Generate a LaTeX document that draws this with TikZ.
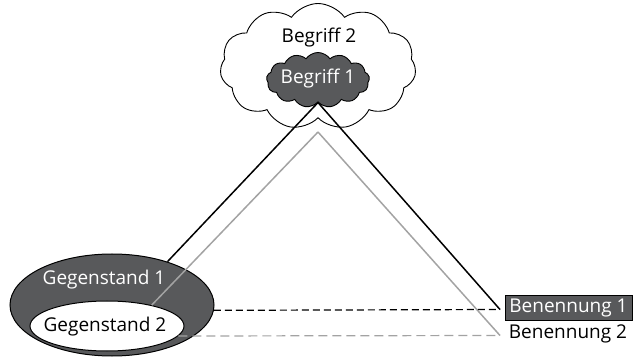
\documentclass[tikz,border=0pt]{standalone}
\usepackage{fontspec}
\setmainfont{Open Sans}
\usetikzlibrary{shapes.geometric,shapes.symbols}
\definecolor{darkfill}{HTML}{58595B}
\definecolor{lightline}{HTML}{A3A3A3}
\tikzset{
  lbl/.style={font=\fontsize{19}{22}\selectfont, inner sep=0pt},
  cloudbox/.style={cloud, cloud ignores aspect, draw=black, line width=0.9pt, cloud puffs=#1, cloud puff arc=110, inner sep=0pt},
  ellbox/.style={ellipse, draw=black, line width=1pt, inner sep=0pt},
  mainline/.style={line width=1.5pt},
  grayline/.style={line width=1.5pt, draw=lightline},
  dashblack/.style={line width=1.2pt, dash pattern=on 7pt off 4pt},
  dashgray/.style={line width=1.2pt, draw=lightline, dash pattern=on 9pt off 5pt}
}
\begin{document}
\begin{tikzpicture}[x=1pt,y=-1pt]
\useasboundingbox (0,0) rectangle (635,358);

% concept clouds
\node[cloudbox=11, fill=white, minimum width=196pt, minimum height=126pt] (b2) at (318,66.5) {};
\node[cloudbox=13, fill=darkfill, minimum width=103pt, minimum height=55pt] (b1) at (318,80) {};
\node[lbl] (t2) at (319,38) {Begriff 2};
\node[lbl, text=white] (t1) at (318,79) {Begriff 1};
\coordinate (apex) at (318,132);

% objects
\node[ellbox, fill=darkfill, minimum width=204pt, minimum height=102pt] (ge1) at (112,305) {};
\node[ellbox, fill=white, minimum width=154pt, minimum height=50pt] (ge2) at (107,326) {};
\node[lbl, text=white] (g1) at (104,280) {Gegenstand 1};
\node[lbl] (g2) at (105,327) {Gegenstand 2};

% designations
\node[lbl, fill=darkfill, draw=black, line width=0.6pt, text=white, minimum width=127pt, minimum height=25pt, inner sep=0pt] (bn1) at (568.5,308) {Benennung 1};
\node[lbl] (bn2) at (568,334) {Benennung 2};
\coordinate (e1) at (500,309.5);
\coordinate (e2) at (500,335.5);

% triangle sides
\draw[mainline] (b1.south) -- (ge1.38);
\draw[mainline] (b1.south) -- (e1);
\draw[grayline] (apex) -- (ge2.25);
\draw[grayline] (apex) -- (e2);

% designation links
\draw[dashblack] (ge1.-3) -- (e1);
\draw[dashgray] (ge2.-8) -- (e2);
\end{tikzpicture}
\end{document}
